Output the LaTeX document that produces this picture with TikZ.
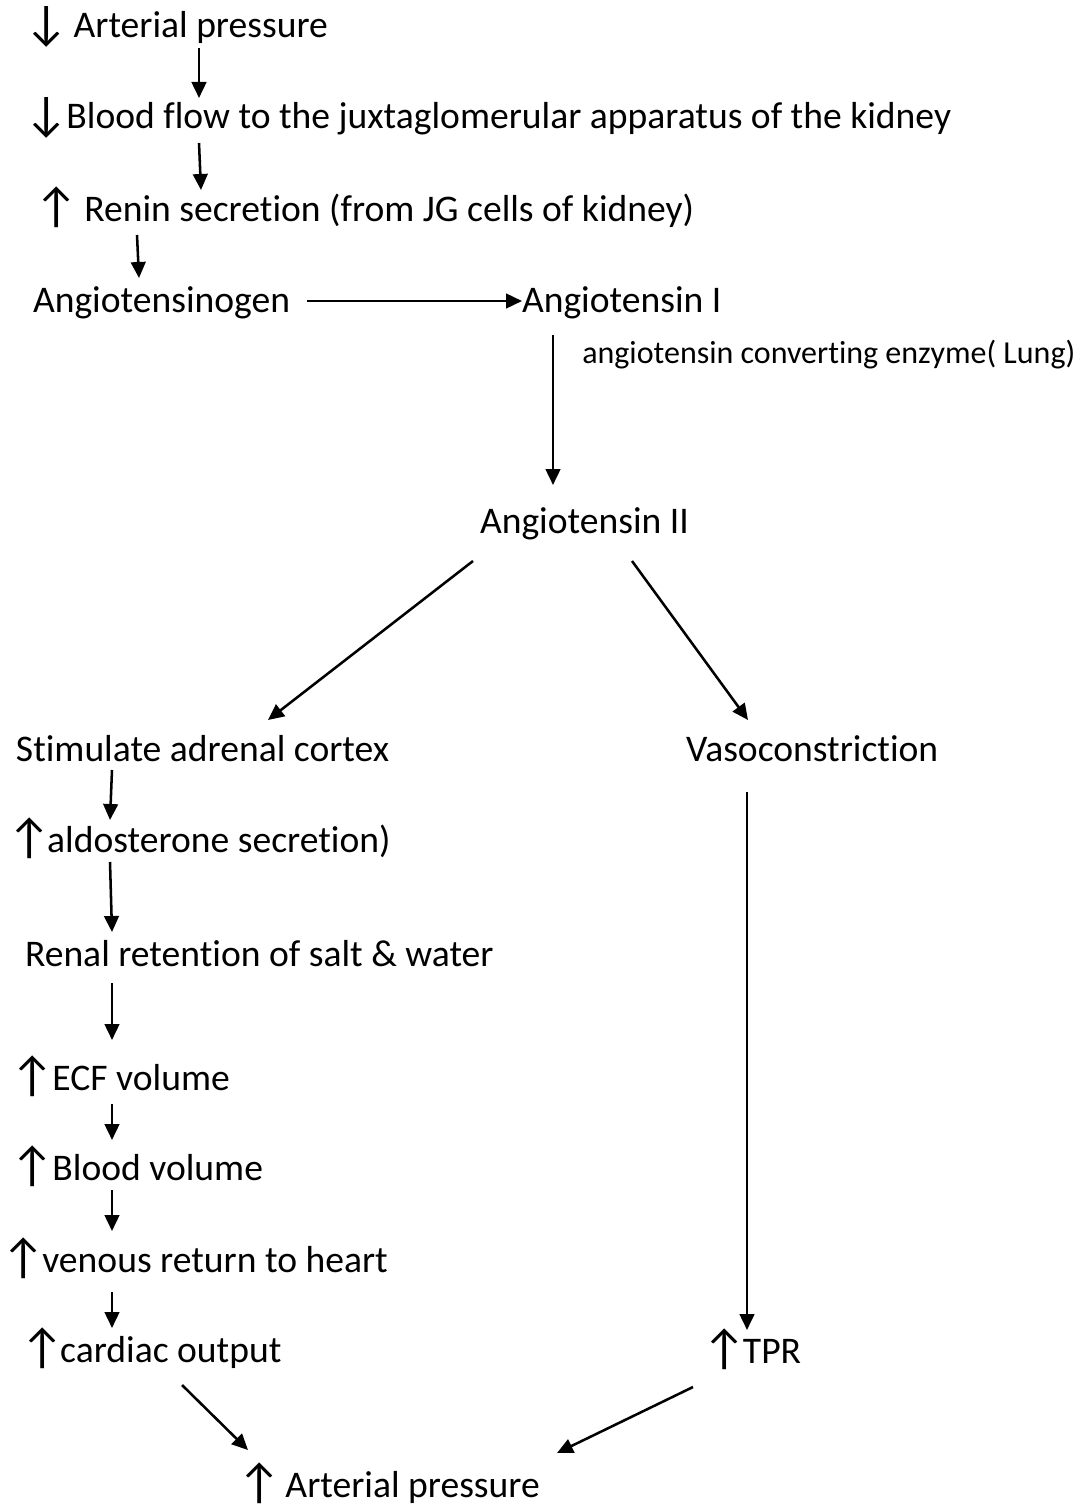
\documentclass[tikz,border=0pt]{standalone}
\usepackage{fontspec}
\setmainfont{Carlito}[Ligatures={NoCommon}]
\usepackage{graphicx}
\usepackage{tikz}
\usetikzlibrary{arrows.meta, calc}

\newcommand{\mainsz}{\fontsize{28.2}{33}\selectfont}
\newcommand{\smallsz}{\fontsize{24}{28}\selectfont}
% arrow glyph in a box of given width
\newcommand{\UpMark}[1]{\makebox[#1][l]{\hspace{-0.22em}\raisebox{-0.05em}{\scalebox{1.3}{↑}}}}
\newcommand{\DownMark}[1]{\makebox[#1][l]{\hspace{-0.22em}\raisebox{-0.05em}{\scalebox{1.3}{↓}}}}

\tikzset{
  txt/.style ={anchor=base west, inner sep=0pt, outer sep=0pt, text height=18pt, text depth=6pt, font=\mainsz, text=black},
  lbl/.style ={anchor=base west, inner sep=0pt, font=\smallsz, text=black},
  arr/.style ={-{Triangle[length=12pt,width=11pt]}, line width=1.9pt, black},
}

\begin{document}
\begin{tikzpicture}[x=0.75pt, y=-0.75pt]
\useasboundingbox (0,0) rectangle (1082,1509);

% ---- top chain ----
\node[txt] (ap1)  at (33,38)   {\DownMark{1.08em}Arterial pressure};
\node[txt] (flow) at (33,129)  {\DownMark{0.89em}Blood flow to the juxtaglomerular apparatus of the kidney};
\node[txt] (ren)  at (43,221)  {\UpMark{1.1em}Renin secretion (from JG cells of kidney)};
\node[txt] (agn)  at (33,312)  {Angiotensinogen};
\node[txt] (ang1) at (522,312) {Angiotensin I};
\node[lbl] (ace)  at (582,363) {angiotensin converting enzyme( Lung)};
\node[txt] (ang2) at (480,533) {Angiotensin II};

\draw[arr] ($(ap1.south west)+(166,2)$)  -- ($(flow.north west)+(166,-7)$);
\draw[arr] ($(flow.south west)+(166,6)$) -- ($(ren.north west)+(158,-7)$);
\draw[arr] ($(ren.south west)+(94,6)$)   -- ($(agn.north west)+(106,-10)$);
\draw[arr] ($(agn.east)+(17,-3)$)        -- ($(ang1.west)+(0,-3)$);
\draw[arr] ($(ang1.south west)+(31,15)$) -- ($(ang2.north west)+(73,-24)$);

% ---- left branch (adrenal) ----
\node[txt] (adr)  at (16,761)  {Stimulate adrenal cortex};
\node[txt] (ald)  at (16,852)  {\UpMark{0.83em}aldosterone secretion)};
\node[txt] (ret)  at (25,966)  {Renal retention of salt \& water};
\node[txt] (ecf)  at (19,1090) {\UpMark{0.89em}ECF volume};
\node[txt] (bv)   at (19,1180) {\UpMark{0.89em}Blood volume};
\node[txt] (ven)  at (10,1272) {\UpMark{0.86em}venous return to heart};
\node[txt] (co)   at (29,1362) {\UpMark{0.83em}cardiac output};

\draw[arr] ($(ang2.south west)+(-7,20)$) -- ($(adr.north west)+(252,-17)$);
\draw[arr] ($(adr.south west)+(96,1)$)   -- ($(ald.north west)+(94,-8)$);
\draw[arr] ($(ald.south west)+(94,2)$)   -- ($(ret.north west)+(87,-10)$);
\draw[arr] ($(ret.south west)+(87,9)$)   -- ($(ecf.north west)+(93,-26)$);
\draw[arr] ($(ecf.south west)+(93,6)$)   -- ($(bv.north west)+(93,-16)$);
\draw[arr] ($(bv.south west)+(93,2)$)    -- ($(ven.north west)+(102,-17)$);
\draw[arr] ($(ven.south west)+(102,12)$) -- ($(co.north west)+(83,-10)$);

% ---- right branch (vessels) ----
\node[txt] (vaso) at (686,761)  {Vasoconstriction};
\node[txt] (tpr)  at (711,1363) {\UpMark{0.85em}TPR};

\draw[arr] ($(ang2.south west)+(152,20)$) -- ($(vaso.north west)+(62,-17)$);
\draw[arr] ($(vaso.south west)+(61,23)$)  -- ($(tpr.north west)+(36,-9)$);

% ---- result ----
\node[txt] (ap2)  at (246,1497) {\UpMark{1.05em}Arterial pressure};
\draw[arr] ($(co.south west)+(153,15)$)  -- ($(ap2.north west)+(2,-23)$);
\draw[arr] ($(tpr.south west)+(-18,16)$) -- ($(ap2.north west)+(311,-20)$);
\end{tikzpicture}
\end{document}
